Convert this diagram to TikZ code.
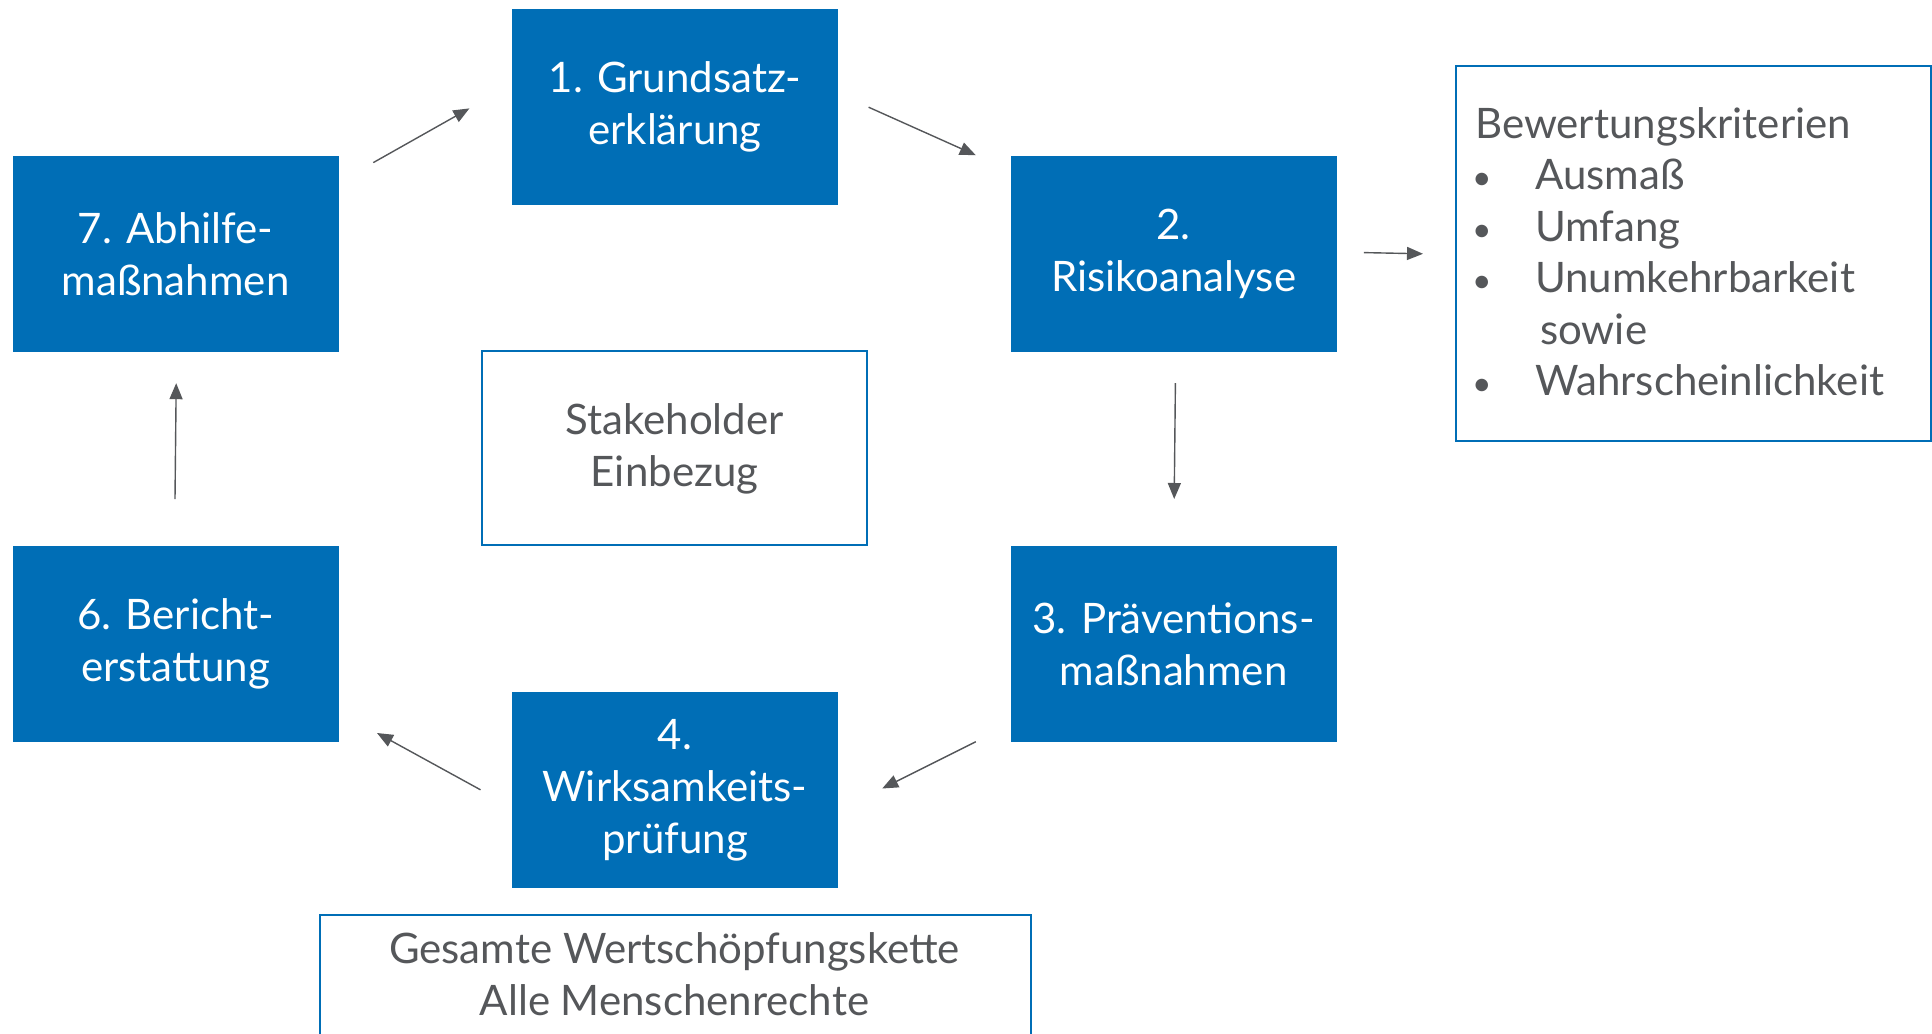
\documentclass[tikz,border=0pt]{standalone}
\usepackage{fontspec}
\setmainfont{Lato}
\usetikzlibrary{arrows.meta}
\definecolor{lkblue}{RGB}{0,110,182}
\definecolor{lkgray}{RGB}{85,87,90}
\newcommand{\lkfont}{\fontsize{42}{52}\selectfont}
\newcommand{\lkbullet}{\makebox[60pt][l]{\hspace{-3pt}\scalebox{0.8}{\textbullet}}}
\tikzset{
  stepbox/.style={fill=lkblue, draw=lkblue, line width=1pt, text=white,
    minimum width=325pt, minimum height=195pt, inner sep=0pt,
    align=center, font=\lkfont},
  framebox/.style={draw=lkblue, line width=2pt, fill=white, text=lkgray,
    inner sep=0pt, align=center, font=\lkfont},
  flow/.style={draw=lkgray, line width=1.4pt,
    -{Triangle[length=16pt,width=13pt]}}
}
\begin{document}
\begin{tikzpicture}[x=1pt,y=-1pt]
\useasboundingbox (0,0) rectangle (1932,1033);

% process steps
\node[stepbox] (s1) at (675,107) {1. Grundsatz-\\erklärung};
\node[stepbox] (s2) at (1173.6,253.7) {2.\\Risikoanalyse};
\node[stepbox] (s3) at (1173.6,643.8) {3. Präventions-\\maßnahmen};
\node[stepbox] (s4) at (675,790) {4.\\Wirksamkeits-\\prüfung};
\node[stepbox] (s6) at (175.6,643.8) {6. Bericht-\\erstattung};
\node[stepbox] (s7) at (175.6,253.7) {7. Abhilfe-\\maßnahmen};

% framed notes
\node[framebox, minimum width=385pt, minimum height=194pt] (stake) at (674.6,448.4)
  {Stakeholder\\Einbezug};
\node[framebox, minimum width=711pt, minimum height=200pt, anchor=north west] (scope) at (319,914) {};
\node[text=lkgray, align=center, font=\lkfont] (scopetxt) at (674.5,974)
  {Gesamte Wertschöpfungskette\\Alle Menschenrechte};
\node[framebox, minimum width=475pt, minimum height=375pt, anchor=north west] (crit) at (1455,65) {};
\node[text=lkgray, align=left, anchor=north west, inner sep=0pt,
  font=\fontsize{42}{51.5}\selectfont] (crittxt) at (1475,107)
  {Bewertungskriterien\\
   \lkbullet Ausmaß\\
   \lkbullet Umfang\\
   \lkbullet Unumkehrbarkeit\\
   \makebox[65pt][l]{}sowie\\
   \lkbullet Wahrscheinlichkeit};

% arrow end points
\coordinate (p71) at (373.3,162.6);  \coordinate (q71) at (469.4,108.4);
\coordinate (p12) at (868.6,107.2);  \coordinate (q12) at (975.8,155.2);
\coordinate (p2c) at (1363.9,252.6); \coordinate (q2c) at (1423,253.8);
\coordinate (p23) at (1175.4,383.2); \coordinate (q23) at (1174.2,499);
\coordinate (p34) at (975.8,741.7);  \coordinate (q34) at (882.2,788.5);
\coordinate (p46) at (480.5,789.8);  \coordinate (q46) at (377,733);
\coordinate (p67) at (175,499);      \coordinate (q67) at (176.2,383.2);

\draw[flow] (p71) -- (q71);
\draw[flow] (p12) -- (q12);
\draw[flow] (p2c) -- (q2c);
\draw[flow] (p23) -- (q23);
\draw[flow] (p34) -- (q34);
\draw[flow] (p46) -- (q46);
\draw[flow] (p67) -- (q67);
\end{tikzpicture}
\end{document}
